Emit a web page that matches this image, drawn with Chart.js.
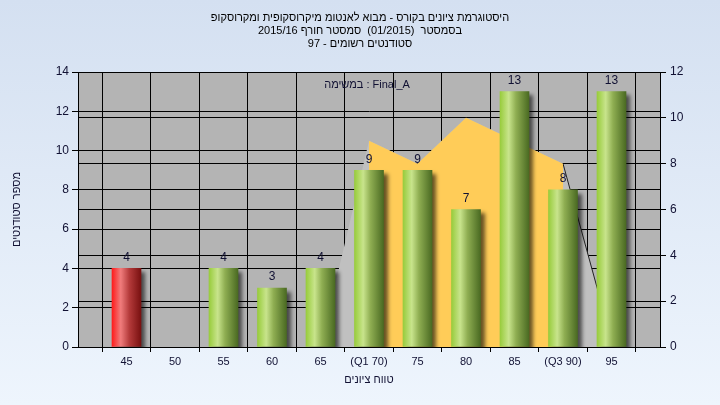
<!DOCTYPE html>
<html>
<head>
<meta charset="utf-8">
<script src="https://cdn.jsdelivr.net/npm/chart.js@4.4.1/dist/chart.umd.min.js"></script>
<style>
  html, body { margin: 0; padding: 0; }
  body { width: 720px; height: 405px; background: linear-gradient(#d4e0f1, #eef5fd); overflow: hidden; }
  canvas { display: block; }
</style>
</head>
<body>
<canvas id="chart" width="720" height="405"></canvas>
<script>
// --- data ---
const titleLines = [
    'היסטוגרמת ציונים בקורס - מבוא לאנטומ מיקרוסקופית ומקרוסקופ',
    'בסמסטר  (01/2015)  סמסטר חורף 2015/16',
    'סטודנטים רשומים - 97'
];
const seriesName = 'במשימה : Final_A';
const xAxisTitle = 'טווח ציונים';
const yAxisTitle = 'מספר סטודנטים';

const grades = [45, 50, 55, 60, 65, 70, 75, 80, 85, 90, 95];
const gradeLabels = ['45', '50', '55', '60', '65', '(Q1 70)', '75', '80', '85', '(Q3 90)', '95'];
const counts = [4, 0, 4, 3, 4, 9, 9, 7, 13, 8, 13];
const failUpTo = 50; // bars at or below this grade are red

const curveGrades = [65, 70, 75, 80, 85, 90, 95];
const curveValues = [0, 9, 8, 10, 9, 8, 0.3];
const q1 = 70, q3 = 90;

const leftTicks = [0, 2, 4, 6, 8, 10, 12, 14];
const rightTicks = [0, 2, 4, 6, 8, 10, 12];

// --- styles ---
const FONT = "'Liberation Sans', Arial, sans-serif";
const TEXT = '#111133';
const greenStops = [[0, '#98cc3c'], [0.3, '#c8e48c'], [0.55, '#8fae52'], [1, '#4a6a22']];
const redStops = [[0, '#ff1c1c'], [0.3, '#f07c7c'], [0.6, '#b43a3a'], [1, '#781010']];

function barFill(c) {
    const chart = c.chart;
    if (!chart.chartArea || c.dataIndex === undefined) return '#9acd3c';
    const g = grades[c.dataIndex];
    const x = chart.scales.x.getPixelForValue(g);
    const grad = chart.ctx.createLinearGradient(x - 14.5, 0, x + 14.5, 0);
    (g <= failUpTo ? redStops : greenStops).forEach(s => grad.addColorStop(s[0], s[1]));
    return grad;
}

const plotBackground = {
    id: 'plotBackground',
    beforeDraw(chart) {
        const {ctx, chartArea: a} = chart;
        ctx.save();
        ctx.fillStyle = '#b4b4b4';
        ctx.fillRect(a.left, a.top, a.right - a.left, a.bottom - a.top);
        ctx.restore();
    }
};

const barShadow = {
    id: 'barShadow',
    beforeDatasetDraw(chart, args) {
        if (args.index !== 0) return;
        const ctx = chart.ctx;
        ctx.save();
        ctx.shadowColor = 'rgba(0,0,0,0.6)';
        ctx.shadowBlur = 4;
        ctx.shadowOffsetX = 4;
        ctx.shadowOffsetY = 4;
    },
    afterDatasetDraw(chart, args) {
        if (args.index !== 0) return;
        chart.ctx.restore();
    }
};

const texts = {
    id: 'texts',
    afterDatasetsDraw(chart) {
        const ctx = chart.ctx;
        const a = chart.chartArea;
        const meta = chart.getDatasetMeta(0);
        ctx.save();
        ctx.textBaseline = 'middle';
        ctx.textAlign = 'center';
        ctx.fillStyle = TEXT;
        ctx.font = '12px ' + FONT;
        meta.data.forEach((el, i) => {
            if (counts[i] > 0) ctx.fillText(String(counts[i]), el.x, el.y - 11);
        });
        ctx.font = '11px ' + FONT;
        ctx.fillText(seriesName, (a.left + a.right) / 2 - 2, a.top + 13);

        // title and x axis title, right to left
        ctx.direction = 'rtl';
        ctx.fillStyle = '#000';
        titleLines.forEach((line, i) => ctx.fillText(line, chart.width / 2, 18 + i * 13));
        ctx.fillStyle = TEXT;
        ctx.fillText(xAxisTitle, (a.left + a.right) / 2, 380);
        ctx.restore();
    }
};

const curveIdx = (g) => curveGrades.indexOf(g);

new Chart(document.getElementById('chart'), {
    type: 'bar',
    data: {
        datasets: [{
            type: 'bar',
            data: grades.map((g, i) => ({x: g, y: counts[i] > 0 ? counts[i] : null})),
            backgroundColor: barFill,
            borderWidth: 0,
            barThickness: 29,
            yAxisID: 'y',
            order: 1
        }, {
            type: 'line',
            data: curveGrades.slice(curveIdx(q1), curveIdx(q3) + 1)
                .map((g, i) => ({x: g, y: curveValues[curveIdx(q1) + i]})),
            yAxisID: 'y1',
            fill: 'origin',
            backgroundColor: '#ffcc58',
            borderWidth: 0,
            borderColor: 'rgba(0,0,0,0)',
            pointRadius: 0,
            tension: 0,
            order: 2
        }, {
            type: 'line',
            data: curveGrades.map((g, i) => ({x: g, y: curveValues[i]})),
            yAxisID: 'y1',
            fill: 'origin',
            backgroundColor: '#c0c0c0',
            borderWidth: 1,
            borderColor: 'rgba(0,0,0,0)',
            segment: {
                borderColor: c => c.p0DataIndex === curveGrades.length - 2 ? '#222' : 'rgba(0,0,0,0)'
            },
            pointRadius: 0,
            tension: 0,
            order: 3
        }]
    },
    options: {
        responsive: false,
        animation: false,
        layout: {padding: {top: 72}},
        plugins: {
            legend: {display: false},
            tooltip: {enabled: false},
            title: {display: false}
        },
        scales: {
            x: {
                type: 'linear',
                min: 40,
                max: 100,
                offset: false,
                afterBuildTicks: s => { s.ticks = grades.map(v => ({value: v})); },
                afterFit: s => { s.height = 58; },
                grid: {color: '#000', lineWidth: 1, tickLength: 5},
                border: {color: '#000'},
                ticks: {
                    callback: v => gradeLabels[grades.indexOf(v)],
                    color: TEXT, font: {family: FONT, size: 11}, padding: 3,
                    maxRotation: 0, autoSkip: false
                }
            },
            y: {
                position: 'left',
                min: 0,
                max: 14,
                afterBuildTicks: s => { s.ticks = leftTicks.map(v => ({value: v})); },
                afterFit: s => { s.width = 78; },
                grid: {color: '#000', lineWidth: 1, tickLength: 6},
                border: {color: '#000'},
                ticks: {color: TEXT, font: {family: FONT, size: 12}, padding: 3},
                title: {
                    display: true, text: yAxisTitle, color: TEXT,
                    font: {family: FONT, size: 11}, padding: {top: 10, bottom: 0}
                }
            },
            y1: {
                position: 'right',
                min: 0,
                max: 12,
                afterBuildTicks: s => { s.ticks = rightTicks.map(v => ({value: v})); },
                afterFit: s => { s.width = 60; },
                grid: {color: '#000', lineWidth: 1, tickLength: 6},
                border: {color: '#000'},
                ticks: {color: TEXT, font: {family: FONT, size: 12}, padding: 4}
            }
        }
    },
    plugins: [plotBackground, barShadow, texts]
});
</script>
</body>
</html>
